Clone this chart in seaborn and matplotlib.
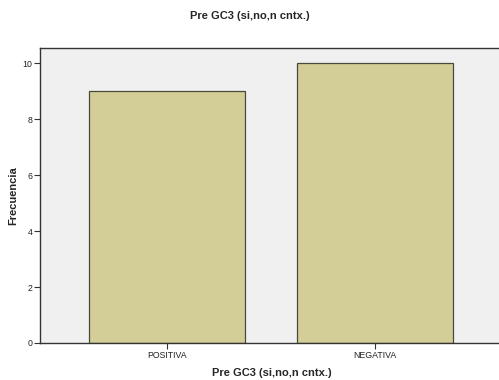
import matplotlib
matplotlib.use("Agg")
import matplotlib.pyplot as plt
import seaborn as sns
import pandas as pd

categories = ["POSITIVA", "NEGATIVA"]
frecuencia = [9, 10]
y_ticks = [0, 2, 4, 6, 8, 10]

df = pd.DataFrame({"categoria": categories, "frecuencia": frecuencia})

sns.set_theme(style="white")
plt.rcParams["font.family"] = ["Liberation Sans", "DejaVu Sans"]

fig = plt.figure(figsize=(4.99, 3.80), dpi=100)
ax = fig.add_axes([40 / 499, 1 - 343 / 380, 1 - 40 / 499 + 0.01, (343 - 48) / 380])
ax.set_facecolor("#f0f0f0")

sns.barplot(data=df, x="categoria", y="frecuencia", ax=ax, color="#d3ce97",
            width=0.75, edgecolor="#4a4a3a", linewidth=0.9, saturation=1)

ax.set_xlim(-0.61, 1.62)
ax.set_ylim(0, 10.54)
ax.set_yticks(y_ticks)
ax.set_yticklabels([str(v) for v in y_ticks])

ax.tick_params(axis="both", which="both", length=4, width=0.8, color="#333333",
               labelsize=6.3, labelcolor="#222222", pad=1.5, direction="out",
               left=True, bottom=True)

for side in ["left", "bottom", "top"]:
    ax.spines[side].set_visible(True)
    ax.spines[side].set_color("#333333")
    ax.spines[side].set_linewidth(1.0)
ax.spines["right"].set_visible(False)

ax.set_xlabel("Pre GC3 (si,no,n cntx.)", fontsize=8, fontweight="bold", labelpad=6)
ax.set_ylabel("Frecuencia", fontsize=8, fontweight="bold", labelpad=3)
fig.suptitle("Pre GC3 (si,no,n cntx.)", fontsize=8, fontweight="bold",
             x=0.5, y=1 - 16 / 380, va="center")

fig.savefig("out.png", dpi=100)
